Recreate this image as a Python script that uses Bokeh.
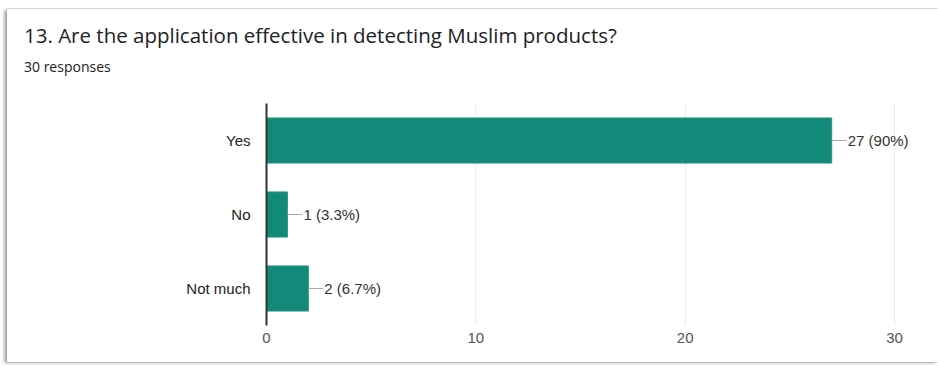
from bokeh.plotting import figure
from bokeh.layouts import column
from bokeh.models import ColumnDataSource, FactorRange, Range1d, FixedTicker, LabelSet, Span, Div
from bokeh.embed import file_html
from bokeh.resources import INLINE
from bokeh.core.properties import value

title_text = "13. Are the application effective in detecting Muslim products?"
subtitle_text = "30 responses"
categories = ["Yes", "No", "Not much"]
counts = [27, 1, 2]
percents = ["90%", "3.3%", "6.7%"]
x_ticks = [0, 10, 20, 30]
x_max = 30

labels = [f"{c} ({p})" for c, p in zip(counts, percents)]

# layout (pixels)
MX, MY = 7, 9                 # card offset
W = 931
H1, H2 = 49, 20               # heights of the two title rows
H = 353 - H1 - H2             # figure height
FL, FT, FB = 259, 25, 37      # frame borders
GRID_W = 628                  # pixel width of the 0..x_max range
FR = 5                        # frame extends to the right to leave room for labels
frame_w = W - FL - FR
x_end = x_max * frame_w / GRID_W
LEADER_PX = 15
lead = LEADER_PX * x_max / GRID_W

src = ColumnDataSource(dict(
    cat=categories,
    count=counts,
    lead_end=[c + lead for c in counts],
    label=labels,
))

title_div = Div(width=W, height=H1, margin=0,
                text=f'<div style="padding:13px 0 0 17px; font-family:\'Open Sans\'; font-size:20.5px; '
                     f'line-height:26px; color:#202124; white-space:nowrap">{title_text}</div>')
subtitle_div = Div(width=W, height=H2, margin=0,
                   text=f'<div style="padding:0 0 0 17px; font-family:\'Open Sans\'; font-size:14px; '
                        f'line-height:18px; color:#202124; white-space:nowrap">{subtitle_text}</div>')

p = figure(width=W, height=H, output_backend="svg", toolbar_location=None, tools="",
           title=None, margin=0,
           y_range=FactorRange(factors=categories[::-1], range_padding=0),
           x_range=Range1d(0, x_end),
           min_border_left=FL, min_border_right=FR, min_border_top=FT, min_border_bottom=FB)
p.background_fill_color = "white"
p.border_fill_color = "white"
p.outline_line_color = None

p.xgrid.grid_line_color = "#ececec"
p.ygrid.grid_line_color = None
p.add_layout(Span(location=x_max, dimension="height", line_color="#ececec", line_width=1))

p.hbar(y="cat", left=0, right="count", height=0.61, source=src,
       fill_color="#13897a", line_color="#2c9888", line_width=1)
p.segment(x0="count", y0="cat", x1="lead_end", y1="cat", source=src,
          line_color="#aaaaaa", line_width=1)
p.add_layout(LabelSet(x="count", y="cat", text="label", source=src, x_offset=LEADER_PX + 1,
                      text_baseline="middle", text_font=value("Liberation Sans"),
                      text_font_size="15px", text_color="#333333"))

# axes
p.xaxis.ticker = FixedTicker(ticks=x_ticks)
p.xaxis.axis_line_color = None
p.xaxis.major_tick_line_color = None
p.xaxis.minor_tick_line_color = None
p.xaxis.major_label_text_font = "Liberation Sans"
p.xaxis.major_label_text_font_size = "15px"
p.xaxis.major_label_text_color = "#555555"
p.xaxis.major_label_standoff = 1

p.yaxis.axis_line_color = "#333333"
p.yaxis.axis_line_width = 2
p.yaxis.major_tick_line_color = None
p.yaxis.minor_tick_line_color = None
p.yaxis.major_label_text_font = "Liberation Sans"
p.yaxis.major_label_text_font_size = "15px"
p.yaxis.major_label_text_color = "#222222"
p.yaxis.major_label_standoff = 10

card = column(title_div, subtitle_div, p, spacing=0, margin=(MY, 0, 0, MX),
              styles={"box-shadow": "-3px 1px 3px rgba(0,0,0,0.30), 0 0 0 1px #e3e3e3",
                      "background-color": "white"})

open("out.html", "w").write(file_html(card, INLINE))
